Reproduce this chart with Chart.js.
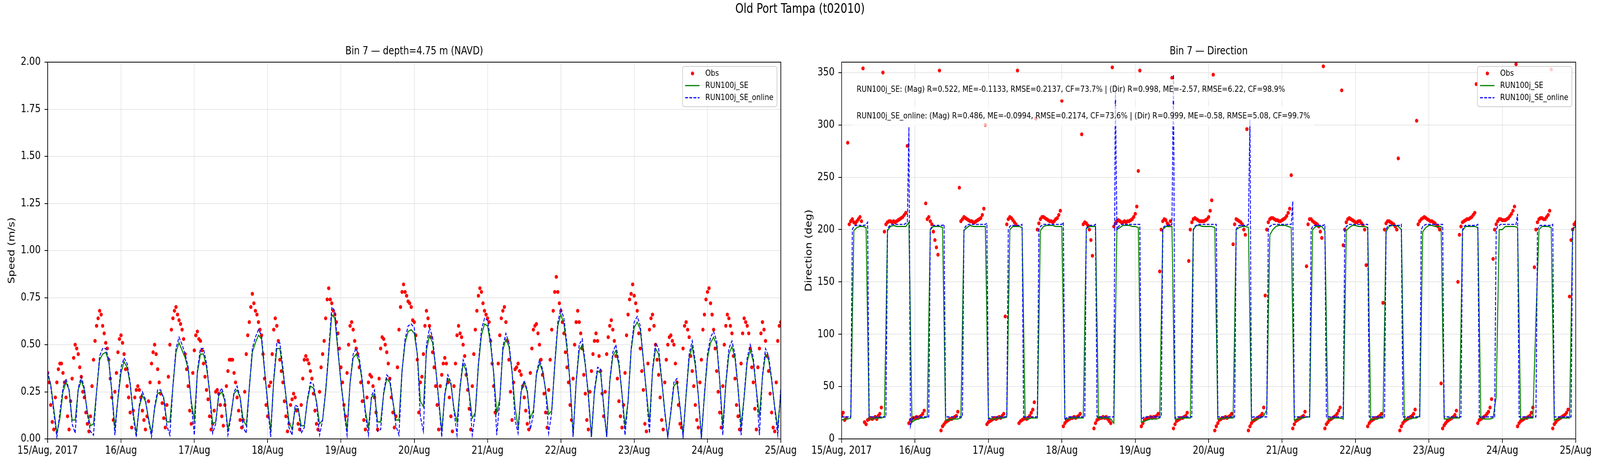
<!DOCTYPE html>
<html>
<head>
<meta charset="utf-8">
<title>Old Port Tampa (t02010)</title>
<script src="https://cdn.jsdelivr.net/npm/chart.js@4.4.1/dist/chart.umd.min.js"></script>
<style>
  html, body { margin: 0; padding: 0; overflow: hidden; background: #fff; }
  #page { position: absolute; left: 0; top: 0; width: 5000px; height: 1200px; transform-origin: 0 0; font-family: "DejaVu Sans", sans-serif; }
  #suptitle { position: absolute; left: 0; top: 0; width: 5000px; text-align: center; font-size: 33px; line-height: 44px; color: #000; }
  canvas { position: absolute; top: 0; }
</style>
</head>
<body>
<div id="page">
<div id="suptitle">Old Port Tampa (t02010)</div>
<canvas id="speedChart" width="2500" height="1200" style="left:0px"></canvas>
<canvas id="dirChart" width="2500" height="1200" style="left:2500px"></canvas>
</div>
<script>
// x axis: hours since 15 Aug 2017 00:00, one tick per day
const dayLabels = ['15/Aug, 2017', '16/Aug', '17/Aug', '18/Aug', '19/Aug', '20/Aug', '21/Aug', '22/Aug', '23/Aug', '24/Aug', '25/Aug'];

const seriesNames = ['Obs', 'RUN100j_SE', 'RUN100j_SE_online'];

const statLines = [
  'RUN100j_SE: (Mag) R=0.522, ME=-0.1133, RMSE=0.2137, CF=73.7% | (Dir) R=0.998, ME=-2.57, RMSE=6.22, CF=98.9%',
  'RUN100j_SE_online: (Mag) R=0.486, ME=-0.0994, RMSE=0.2174, CF=73.6% | (Dir) R=0.999, ME=-0.58, RMSE=5.08, CF=99.7%'
];

// observed speed (m/s), every 30 min
const speedObs = [
  0.35,0.30,0.18,0.09,0.05,0.22,0.30,0.37,0.40,0.40,0.35,0.30,0.22,0.12,0.05,0.20,0.32,0.43,0.50,0.48,0.45,0.38,0.33,0.25,
  0.22,0.14,0.08,0.04,0.12,0.28,0.42,0.52,0.60,0.64,0.68,0.66,0.60,0.56,0.51,0.48,0.42,0.32,0.22,0.10,0.25,0.35,0.46,0.53,
  0.55,0.51,0.45,0.37,0.28,0.22,0.14,0.06,0.15,0.22,0.26,0.28,0.26,0.22,0.15,0.10,0.05,0.12,0.20,0.30,0.40,0.46,0.50,0.45,
  0.37,0.30,0.24,0.19,0.11,0.06,0.18,0.33,0.50,0.58,0.64,0.68,0.70,0.66,0.63,0.61,0.58,0.53,0.45,0.37,0.28,0.15,0.08,0.35,
  0.47,0.55,0.57,0.53,0.52,0.47,0.40,0.33,0.26,0.21,0.12,0.05,0.08,0.15,0.25,0.26,0.24,0.18,0.12,0.07,0.18,0.28,0.36,0.42,
  0.42,0.42,0.35,0.30,0.22,0.15,0.10,0.06,0.10,0.25,0.45,0.55,0.62,0.70,0.77,0.72,0.68,0.66,0.62,0.58,0.55,0.45,0.32,0.18,
  0.12,0.28,0.30,0.45,0.58,0.64,0.60,0.52,0.42,0.36,0.30,0.20,0.12,0.04,0.08,0.18,0.21,0.24,0.22,0.15,0.08,0.05,0.18,0.32,
  0.42,0.44,0.42,0.40,0.36,0.32,0.24,0.15,0.08,0.05,0.25,0.38,0.45,0.52,0.64,0.74,0.80,0.74,0.72,0.68,0.66,0.62,0.56,0.48,
  0.38,0.30,0.18,0.12,0.35,0.50,0.60,0.62,0.58,0.52,0.48,0.45,0.38,0.30,0.20,0.10,0.05,0.22,0.30,0.34,0.33,0.28,0.22,0.14,
  0.05,0.32,0.48,0.54,0.53,0.50,0.46,0.40,0.32,0.22,0.14,0.06,0.12,0.38,0.58,0.70,0.78,0.82,0.78,0.76,0.73,0.72,0.70,0.63,
  0.62,0.55,0.42,0.14,0.30,0.33,0.45,0.60,0.68,0.64,0.60,0.54,0.46,0.38,0.28,0.18,0.05,0.28,0.34,0.40,0.43,0.40,0.30,0.22,
  0.12,0.04,0.28,0.40,0.55,0.60,0.56,0.54,0.50,0.44,0.34,0.26,0.16,0.05,0.28,0.45,0.58,0.68,0.76,0.80,0.78,0.72,0.68,0.66,
  0.64,0.62,0.52,0.40,0.28,0.14,0.15,0.40,0.55,0.64,0.68,0.70,0.62,0.52,0.42,0.25,0.10,0.30,0.37,0.38,0.40,0.36,0.34,0.28,
  0.22,0.15,0.08,0.05,0.35,0.48,0.58,0.60,0.61,0.56,0.50,0.42,0.34,0.24,0.14,0.06,0.26,0.42,0.58,0.68,0.78,0.86,0.78,0.72,
  0.68,0.62,0.56,0.46,0.38,0.30,0.18,0.10,0.32,0.50,0.62,0.68,0.62,0.56,0.48,0.34,0.24,0.10,0.05,0.25,0.36,0.45,0.52,0.56,
  0.52,0.44,0.36,0.24,0.12,0.25,0.45,0.54,0.60,0.63,0.58,0.52,0.44,0.32,0.20,0.12,0.06,0.18,0.35,0.55,0.66,0.74,0.77,0.82,
  0.76,0.72,0.68,0.56,0.48,0.36,0.26,0.08,0.04,0.40,0.58,0.64,0.66,0.60,0.50,0.42,0.34,0.22,0.10,0.05,0.30,0.42,0.50,0.54,
  0.55,0.52,0.50,0.40,0.30,0.18,0.08,0.06,0.48,0.60,0.62,0.58,0.54,0.44,0.36,0.28,0.18,0.10,0.06,0.30,0.42,0.58,0.66,0.74,
  0.78,0.80,0.72,0.66,0.58,0.48,0.36,0.25,0.14,0.06,0.28,0.50,0.60,0.66,0.64,0.60,0.56,0.44,0.32,0.18,0.12,0.05,0.40,0.56,
  0.64,0.62,0.60,0.56,0.48,0.38,0.30,0.16,0.05,0.38,0.48,0.56,0.62,0.58,0.52,0.44,0.36,0.24,0.14,0.06,0.04,0.30,0.52,0.60,
  0.62
];

// RUN100j_SE speed (m/s), hourly
const speedRun = [
  0.34,0.29,0.16,0.03,0.11,0.25,0.30,0.26,0.10,0.10,0.26,0.31,
  0.26,0.14,0.07,0.08,0.25,0.42,0.45,0.46,0.41,0.25,0.06,0.21,
  0.35,0.41,0.38,0.29,0.14,0.03,0.17,0.23,0.20,0.11,0.03,0.16,
  0.24,0.25,0.22,0.09,0.09,0.28,0.46,0.51,0.47,0.43,0.37,0.20,
  0.10,0.35,0.45,0.45,0.38,0.25,0.08,0.09,0.23,0.25,0.20,0.05,
  0.13,0.24,0.26,0.22,0.10,0.07,0.27,0.46,0.51,0.55,0.53,0.36,
  0.20,0.04,0.31,0.48,0.48,0.36,0.23,0.09,0.05,0.16,0.16,0.07,
  0.07,0.20,0.28,0.27,0.20,0.08,0.10,0.25,0.45,0.66,0.64,0.47,
  0.30,0.17,0.05,0.30,0.43,0.45,0.41,0.30,0.15,0.06,0.22,0.24,
  0.09,0.09,0.24,0.32,0.30,0.20,0.10,0.10,0.36,0.51,0.57,0.58,
  0.56,0.45,0.20,0.17,0.47,0.55,0.51,0.38,0.21,0.04,0.23,0.32,
  0.29,0.16,0.09,0.27,0.40,0.36,0.24,0.11,0.14,0.39,0.55,0.61,
  0.60,0.50,0.35,0.14,0.21,0.47,0.53,0.49,0.36,0.17,0.06,0.25,
  0.30,0.25,0.11,0.15,0.34,0.40,0.36,0.26,0.13,0.15,0.39,0.60,
  0.66,0.61,0.48,0.30,0.02,0.30,0.47,0.50,0.39,0.24,0.01,0.25,
  0.36,0.35,0.18,0.01,0.30,0.44,0.47,0.39,0.24,0.07,0.20,0.47,
  0.59,0.62,0.58,0.42,0.25,0.09,0.36,0.48,0.45,0.31,0.15,0.01,
  0.14,0.28,0.30,0.17,0.02,0.23,0.43,0.49,0.39,0.23,0.01,0.23,
  0.43,0.51,0.54,0.50,0.31,0.07,0.29,0.45,0.49,0.43,0.27,0.07,
  0.22,0.41,0.47,0.41,0.26,0.12,0.33,0.45,0.42,0.31,0.17,0.06,
  0.25
];

// RUN100j_SE_online speed (m/s), hourly
const speedOnline = [
  0.36,0.28,0.14,0.01,0.14,0.27,0.32,0.26,0.08,0.03,0.27,0.33,
  0.27,0.13,0.04,0.02,0.25,0.44,0.48,0.48,0.42,0.25,0.02,0.22,
  0.38,0.43,0.40,0.30,0.12,0.01,0.18,0.25,0.21,0.10,0.01,0.17,
  0.26,0.26,0.21,0.07,0.02,0.28,0.48,0.54,0.50,0.45,0.38,0.19,
  0.02,0.36,0.48,0.48,0.40,0.25,0.03,0.08,0.24,0.27,0.21,0.02,
  0.12,0.25,0.28,0.22,0.06,0.03,0.27,0.48,0.54,0.58,0.55,0.37,
  0.18,0.01,0.32,0.51,0.51,0.38,0.22,0.06,0.02,0.18,0.17,0.03,
  0.06,0.21,0.30,0.29,0.19,0.02,0.10,0.26,0.47,0.70,0.68,0.48,
  0.30,0.15,0.02,0.30,0.45,0.48,0.43,0.31,0.13,0.02,0.23,0.26,
  0.04,0.05,0.25,0.34,0.32,0.20,0.07,0.02,0.36,0.53,0.60,0.61,
  0.59,0.45,0.12,0.04,0.50,0.59,0.54,0.38,0.20,0.01,0.24,0.34,
  0.30,0.15,0.02,0.28,0.42,0.38,0.24,0.02,0.14,0.40,0.58,0.64,
  0.63,0.52,0.35,0.02,0.20,0.49,0.56,0.51,0.36,0.10,0.03,0.26,
  0.31,0.26,0.05,0.13,0.35,0.42,0.37,0.26,0.03,0.14,0.40,0.62,
  0.69,0.64,0.50,0.30,0.01,0.30,0.50,0.53,0.40,0.22,0.01,0.26,
  0.38,0.37,0.17,0.01,0.31,0.46,0.50,0.41,0.24,0.02,0.20,0.48,
  0.62,0.65,0.60,0.42,0.24,0.03,0.37,0.51,0.48,0.32,0.14,0.01,
  0.15,0.30,0.32,0.17,0.01,0.24,0.45,0.52,0.41,0.23,0.00,0.24,
  0.45,0.54,0.57,0.52,0.31,0.02,0.30,0.48,0.52,0.45,0.27,0.02,
  0.23,0.43,0.50,0.43,0.26,0.02,0.34,0.48,0.44,0.32,0.16,0.02,
  0.27
];

// observed direction (deg), every 30 min
const dirObs = [
  22,25,18,20,283,205,208,210,207,206,208,210,212,208,354,
  16,14,18,19,20,19,20,21,19,22,24,30,350,
  198,205,207,208,208,207,208,207,208,209,210,211,212,214,216,280,
  15,18,19,20,20,21,20,21,22,24,27,225,
  210,212,208,205,198,190,183,176,352,
  8,12,14,16,17,18,19,19,20,21,22,26,240,
  208,210,212,211,210,209,208,208,207,207,208,209,210,211,214,220,300,
  14,16,17,18,19,20,19,20,21,20,22,24,117,
  205,210,212,211,209,207,205,352,
  15,17,18,19,20,19,20,22,25,28,35,306,
  200,206,210,212,212,211,210,209,208,208,207,208,210,211,214,218,323,
  12,15,17,18,19,20,20,21,20,21,22,24,291,
  205,207,206,204,200,190,175,10,
  15,18,19,20,20,21,20,21,19,17,15,355,
  203,206,208,209,208,207,207,208,207,208,208,209,210,212,215,222,256,352,
  12,15,18,19,20,20,21,20,21,21,22,24,160,
  200,208,210,209,206,204,208,345,
  10,14,17,18,19,20,20,21,22,25,170,
  200,207,210,211,210,209,208,208,208,208,209,210,212,218,228,348,
  8,12,15,18,19,20,20,21,20,21,22,24,186,
  205,210,209,208,207,205,200,195,296,
  8,12,15,17,18,19,20,21,22,24,30,137,
  200,207,210,211,211,210,209,209,208,208,209,210,211,213,216,220,252,
  10,14,17,18,19,20,21,22,26,165,
  205,210,210,208,207,206,205,203,198,192,356,
  10,14,16,18,19,20,21,22,24,27,30,333,
  185,200,207,210,211,210,209,208,207,207,208,208,206,204,200,166,
  12,15,17,18,19,20,20,21,22,24,130,
  200,206,208,208,207,206,205,203,200,268,
  8,12,15,17,18,19,20,21,22,24,28,304,
  205,208,210,211,212,211,210,209,208,208,207,206,204,203,200,53,
  10,13,15,17,18,19,20,21,23,27,150,
  195,203,207,208,209,210,210,211,212,214,216,339,
  15,18,19,20,21,22,24,26,30,38,172,
  200,205,208,210,210,209,209,209,210,211,213,215,218,222,358,
  12,15,17,18,19,20,20,21,22,25,30,164,
  200,207,210,211,211,210,210,212,214,218,353,
  10,14,16,18,19,20,21,22,23,25,28,136,
  190,200,205,207
];

// RUN100j_SE direction (deg), hourly
const dirRun = [
  18,19,19,20,199,202,203,203,202,19,19,20,
  20,20,21,199,203,204,203,203,203,203,207,16,
  18,19,20,20,21,200,203,203,203,202,18,18,
  19,19,19,20,199,202,204,203,203,203,203,203,
  20,19,19,20,20,20,21,200,203,203,203,202,
  19,19,20,20,20,199,203,204,204,204,203,203,
  203,19,19,20,20,20,20,20,201,203,203,203,
  20,20,20,20,19,15,200,202,204,204,204,203,
  203,202,16,17,18,19,19,19,20,200,203,203,
  203,19,19,20,20,20,20,200,204,204,203,203,
  203,203,202,19,19,20,20,20,20,200,202,203,
  203,202,18,18,19,20,22,28,195,200,203,204,
  204,204,203,202,18,19,20,20,21,21,200,203,
  203,203,199,19,19,20,20,20,19,199,202,204,
  204,203,203,203,202,18,19,19,20,20,198,203,
  204,204,203,200,18,19,19,20,20,22,198,202,
  204,204,203,203,203,19,19,20,20,20,20,199,
  203,203,203,203,202,20,19,19,19,20,40,200,
  200,203,203,203,203,202,19,19,20,20,20,114,
  200,203,203,203,202,18,19,20,20,20,20,200,
  203
];

// RUN100j_SE_online direction (deg), every 30 min
const dirOnline = [
  21,21,21,21,21,21,21,
  200,203,204,204,204,204,204,204,204,205,207,
  21,21,21,21,21,21,21,21,21,21,21,21,
  200,203,204,205,205,205,205,205,205,205,205,205,206,207,
  298,
  12,18,20,21,21,21,21,21,21,21,21,21,21,
  200,203,204,204,204,204,204,204,204,205,
  21,21,21,21,21,21,21,21,21,21,21,21,
  200,203,204,205,205,205,205,205,205,205,205,205,205,205,205,206,
  19,20,21,21,21,21,21,21,21,21,21,21,21,
  200,203,204,204,204,204,204,204,204,205,
  21,21,21,21,21,21,21,21,21,21,
  200,203,204,205,205,205,205,205,205,205,205,205,205,205,205,205,207,
  18,20,21,21,21,21,21,21,21,21,21,21,21,21,
  201,203,204,204,204,204,205,
  21,21,21,21,21,21,21,21,21,21,21,21,
  339,
  200,203,204,205,205,205,205,205,205,205,205,205,205,205,205,205,
  19,20,21,21,21,21,21,21,21,21,21,21,21,21,
  201,203,204,204,204,204,205,
  348,
  20,21,21,21,21,21,21,21,21,21,21,21,
  200,203,204,205,205,205,205,205,205,205,205,205,205,205,205,205,
  21,21,21,21,21,21,21,21,21,21,21,21,
  200,203,204,204,204,204,204,204,205,
  305,
  20,21,21,21,21,21,21,21,21,21,21,
  200,203,204,205,205,205,205,205,205,205,205,205,205,205,205,205,
  227,
  21,21,21,21,21,21,21,21,21,21,21,
  200,203,204,204,204,204,204,204,204,205,
  21,21,21,21,21,21,21,21,21,21,21,21,
  200,203,204,205,205,205,205,205,205,205,205,205,205,205,205,205,
  21,21,21,21,21,21,21,21,21,21,21,
  200,203,204,204,204,204,204,204,204,204,205,
  21,21,21,21,21,21,21,21,21,21,21,21,
  200,203,204,205,205,205,205,205,205,205,205,205,205,205,205,
  21,21,21,21,21,21,21,21,21,21,21,21,
  200,203,204,204,204,204,204,204,204,204,205,
  21,21,21,21,21,21,21,21,21,21,21,
  200,203,204,205,205,205,205,205,205,205,205,205,205,205,
  215,
  21,21,21,21,21,21,21,21,21,21,21,21,
  200,203,204,204,204,204,204,204,204,204,205,
  21,21,21,21,21,21,21,21,21,21,21,21,
  200,203,204
];

// the layout is drawn at 5000x1200; squeeze it into the actual viewport if it is smaller
const page = document.getElementById('page');
const sx = window.innerWidth / 5000, sy = window.innerHeight / 1200;
if (Math.abs(sx - 1) > 0.002 || Math.abs(sy - 1) > 0.002) {
  page.style.transform = 'scale(' + sx + ',' + sy + ')';
}

Chart.defaults.font.family = '"DejaVu Sans", sans-serif';
Chart.defaults.color = '#000';

const gridColor = '#e6e6e6';

// hours on the x axis; step = sampling interval in hours
function toPoints(values, step) {
  return values.map((v, i) => ({ x: i * step, y: v }));
}

// frame, stats boxes and matplotlib-like legend inside the axes
const panelDecor = {
  id: 'panelDecor',
  afterDatasetsDraw(chart, args, opts) {
    const { ctx, chartArea: a } = chart;
    ctx.save();

    ctx.font = '22px "DejaVu Sans"';
    ctx.textBaseline = 'middle';
    (opts.notes || []).forEach((t, i) => {
      const tx = a.left + 47;
      const cy = a.top + 70 + i * 68;
      const w = ctx.measureText(t).width;
      ctx.fillStyle = 'rgba(255,255,255,0.7)';
      ctx.fillRect(tx - 13, cy - 26, w + 26, 52);
      ctx.fillStyle = '#000';
      ctx.fillText(t, tx, cy);
    });

    ctx.strokeStyle = '#000';
    ctx.lineWidth = 2;
    ctx.strokeRect(a.left, a.top, a.right - a.left, a.bottom - a.top);

    const lw = 295, lh = 103;
    const lx = a.right - 12 - lw, ly = a.top + 11;
    ctx.beginPath();
    ctx.roundRect(lx, ly, lw, lh, 6);
    ctx.fillStyle = 'rgba(255,255,255,0.8)';
    ctx.fill();
    ctx.strokeStyle = '#cccccc';
    ctx.lineWidth = 2;
    ctx.stroke();

    chart.data.datasets.forEach((ds, i) => {
      const cy = ly + 18 + i * 31;
      if (ds.showLine === false) {
        ctx.beginPath();
        ctx.arc(lx + 31, cy, 5, 0, Math.PI * 2);
        ctx.fillStyle = ds.pointBackgroundColor;
        ctx.fill();
      } else {
        ctx.beginPath();
        ctx.setLineDash(ds.borderDash || []);
        ctx.strokeStyle = ds.borderColor;
        ctx.lineWidth = ds.borderWidth;
        ctx.moveTo(lx + 8, cy);
        ctx.lineTo(lx + 53, cy);
        ctx.stroke();
        ctx.setLineDash([]);
      }
      ctx.fillStyle = '#000';
      ctx.fillText(ds.label, lx + 71, cy);
    });
    ctx.restore();
  }
};

function makePanel(canvasId, cfg) {
  return new Chart(document.getElementById(canvasId), {
    type: 'line',
    data: {
      datasets: [
        { label: seriesNames[0], data: toPoints(cfg.obs, 0.5), showLine: false,
          pointRadius: 5, pointBackgroundColor: '#ff0000', pointBorderWidth: 0, order: 3, clip: 0 },
        { label: seriesNames[1], data: toPoints(cfg.run, 1), borderColor: '#008000', borderWidth: 3,
          pointRadius: 0, order: 2, clip: 0 },
        { label: seriesNames[2], data: toPoints(cfg.online, cfg.onlineStep), borderColor: '#0000ff', borderWidth: 2.8,
          borderDash: [9, 4], pointRadius: 0, order: 1, clip: 0 }
      ]
    },
    options: {
      responsive: false,
      animation: false,
      devicePixelRatio: 1,
      events: [],
      layout: { padding: { top: 0, left: 0, bottom: 0, right: cfg.padRight } },
      plugins: {
        legend: { display: false },
        tooltip: { enabled: false },
        title: { display: true, text: cfg.title, fullSize: false, color: '#000',
                 font: { size: 28, weight: 'normal' }, padding: { top: 115, bottom: 10.4 } },
        panelDecor: { notes: cfg.notes }
      },
      scales: {
        x: {
          type: 'linear', min: 0, max: 240,
          afterFit: s => { s.height = 77; },
          ticks: { stepSize: 24, autoSkip: false, maxRotation: 0, padding: 4, color: '#000',
                   font: { size: 28 }, callback: v => dayLabels[Math.round(v / 24)] },
          grid: { color: gridColor, lineWidth: 2, tickLength: 10, tickColor: '#000', tickWidth: 2 },
          border: { color: '#000', width: 2 }
        },
        y: {
          min: cfg.yMin, max: cfg.yMax,
          afterFit: s => { s.width = cfg.yWidth; },
          ticks: { stepSize: cfg.yStep, includeBounds: false, padding: 12, color: '#000',
                   font: { size: 28 }, callback: cfg.yFormat },
          title: { display: true, text: cfg.yTitle, color: '#000', font: { size: 28 },
                   padding: { top: cfg.yTitlePad, bottom: 0 } },
          grid: { color: gridColor, lineWidth: 2, tickLength: 10, tickColor: '#000', tickWidth: 2 },
          border: { color: '#000', width: 2 }
        }
      }
    },
    plugins: [panelDecor]
  });
}

makePanel('speedChart', {
  title: 'Bin 7 \u2014 depth=4.75 m (NAVD)',
  obs: speedObs, run: speedRun, online: speedOnline, onlineStep: 1,
  yMin: 0, yMax: 2, yStep: 0.25, yFormat: v => v.toFixed(2),
  yTitle: 'Speed (m/s)', yTitlePad: 21, yWidth: 149, padRight: 60, notes: []
});

makePanel('dirChart', {
  title: 'Bin 7 \u2014 Direction',
  obs: dirObs, run: dirRun, online: dirOnline, onlineStep: 0.5,
  yMin: 0, yMax: 360, yStep: 50, yFormat: v => String(v),
  yTitle: 'Direction (deg)', yTitlePad: 12, yWidth: 130, padRight: 76, notes: statLines
});
</script>
</body>
</html>
